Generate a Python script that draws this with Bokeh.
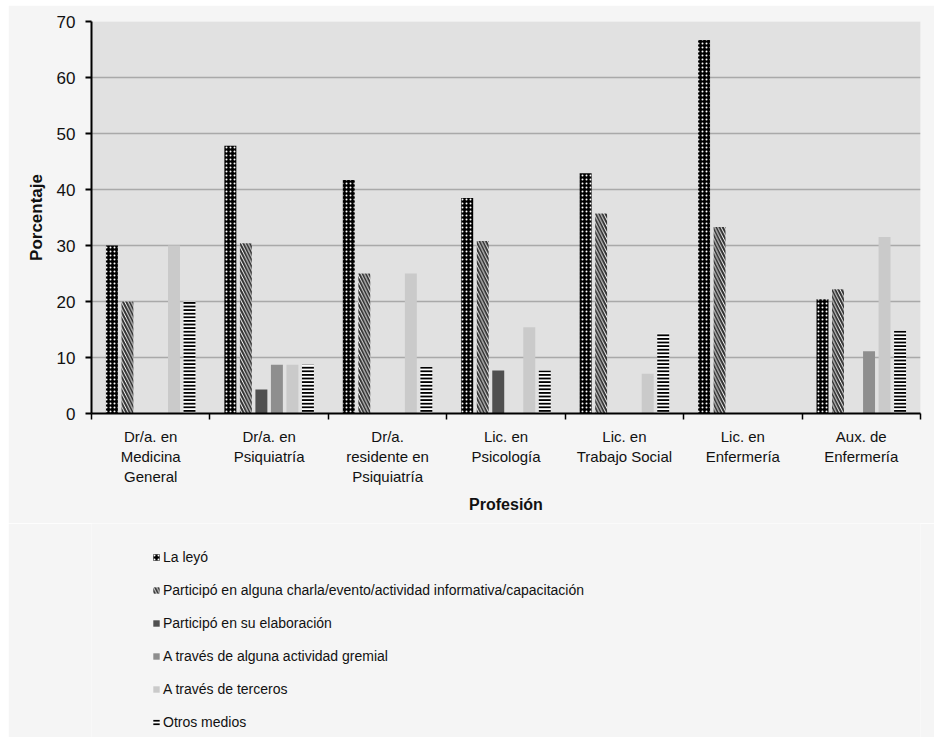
from bokeh.plotting import figure
from bokeh.layouts import column
from bokeh.models import FixedTicker, Legend, LegendItem, Range1d
from bokeh.embed import file_html
from bokeh.resources import INLINE

categories = ["Dr/a. en\nMedicina\nGeneral", "Dr/a. en\nPsiquiatría",
              "Dr/a.\nresidente en\nPsiquiatría", "Lic. en\nPsicología",
              "Lic. en\nTrabajo Social", "Lic. en\nEnfermería", "Aux. de\nEnfermería"]

series_names = ["La leyó",
                "Participó en alguna charla/evento/actividad informativa/capacitación",
                "Participó en su elaboración",
                "A través de alguna actividad gremial",
                "A través de terceros",
                "Otros medios"]

la_leyo = [30.0, 47.8, 41.7, 38.5, 42.9, 66.7, 20.4]
charla = [20.0, 30.4, 25.0, 30.8, 35.7, 33.3, 22.2]
elaboracion = [0.0, 4.3, 0.0, 7.7, 0.0, 0.0, 0.0]
gremial = [0.0, 8.7, 0.0, 0.0, 0.0, 0.0, 11.1]
terceros = [30.0, 8.7, 25.0, 15.4, 7.1, 0.0, 31.5]
otros = [20.0, 8.7, 8.3, 7.7, 14.3, 0.0, 14.8]

y_ticks = [0, 10, 20, 30, 40, 50, 60, 70]

series = [la_leyo, charla, elaboracion, gremial, terceros, otros]

styles = [
    dict(fill_color="black", hatch_pattern="dot", hatch_color="white", hatch_weight=2.2, hatch_scale=4),
    dict(fill_color="white", hatch_pattern="left_diagonal_line", hatch_color="#2e2e2e", hatch_weight=2.0, hatch_scale=6.5),
    dict(fill_color="#505050"),
    dict(fill_color="#8e8e8e"),
    dict(fill_color="#cacaca"),
    dict(fill_color="white", hatch_pattern="horizontal_line", hatch_color="black", hatch_weight=2, hatch_scale=3.6),
]

FONT = "Liberation Sans"
PANEL = "#f5f5f5"

p = figure(width=926, height=518, x_range=Range1d(0, 7), y_range=Range1d(0, 70),
           output_backend="svg", toolbar_location=None,
           min_border_left=83, min_border_right=14, min_border_top=16, min_border_bottom=110)
p.background_fill_color = "#e1e1e1"
p.border_fill_color = PANEL
p.outline_line_color = None

step = 0.131
bw = 0.101
n = len(series)
for k, (vals, st) in enumerate(zip(series, styles)):
    off = (k - (n - 1) / 2) * step
    xs = [i + 0.5 + off for i in range(len(categories))]
    p.vbar(x=xs, top=vals, bottom=0, width=bw, line_color=None, **st)

# axes
p.xgrid.visible = False
p.ygrid.grid_line_color = "#a9a9a9"
p.ygrid.grid_line_width = 1.4
p.ygrid.ticker = FixedTicker(ticks=y_ticks)

p.yaxis.ticker = FixedTicker(ticks=y_ticks)
p.yaxis.axis_line_color = "black"
p.yaxis.axis_line_width = 2
p.yaxis.major_tick_line_color = "black"
p.yaxis.major_tick_line_width = 2
p.yaxis.major_tick_out = 6
p.yaxis.major_tick_in = 0
p.yaxis.minor_tick_line_color = None
p.yaxis.major_label_text_font = FONT
p.yaxis.major_label_text_font_size = "17px"
p.yaxis.major_label_text_color = "#111111"
p.yaxis.major_label_standoff = 10
p.yaxis.axis_label = "Porcentaje"
p.yaxis.axis_label_text_font = FONT
p.yaxis.axis_label_text_font_style = "bold"
p.yaxis.axis_label_text_font_size = "17px"
p.yaxis.axis_label_text_color = "#111111"
p.yaxis.axis_label_standoff = 8

centers = [i + 0.5 for i in range(len(categories))]
bounds = list(range(len(categories) + 1))
p.xaxis.ticker = FixedTicker(ticks=centers, minor_ticks=bounds)
p.xaxis.major_label_overrides = {c: lab for c, lab in zip(centers, categories)}
p.xaxis.axis_line_color = "black"
p.xaxis.axis_line_width = 2
p.xaxis.major_tick_line_color = None
p.xaxis.major_tick_out = 0
p.xaxis.major_tick_in = 0
p.xaxis.minor_tick_line_color = "black"
p.xaxis.minor_tick_line_width = 1.5
p.xaxis.minor_tick_out = 6
p.xaxis.minor_tick_in = 0
p.xaxis.major_label_text_font = FONT
p.xaxis.major_label_text_font_size = "15px"
p.xaxis.major_label_text_color = "#111111"
p.xaxis.major_label_standoff = 8
p.xaxis.axis_label = "Profesión"
p.xaxis.axis_label_text_font = FONT
p.xaxis.axis_label_text_font_style = "bold"
p.xaxis.axis_label_text_font_size = "16px"
p.xaxis.axis_label_text_color = "#111111"
p.xaxis.axis_label_standoff = 8

# legend panel
lf = figure(width=926, height=214, x_range=Range1d(0, 1), y_range=Range1d(0, 1),
            output_backend="svg", toolbar_location=None,
            min_border_left=0, min_border_right=0, min_border_top=0, min_border_bottom=0)
lf.axis.visible = False
lf.grid.visible = False
lf.outline_line_color = None
lf.background_fill_color = PANEL
lf.border_fill_color = PANEL

items = []
for st, name in zip(styles, series_names):
    r = lf.vbar(x=[0.5], top=[0.0], bottom=0, width=0.0, line_color=None, **st)
    items.append(LegendItem(label=name, renderers=[r]))

legend = Legend(items=items, orientation="vertical", location=(61, 5),
                label_text_font=FONT, label_text_font_size="14px", label_text_color="#111111",
                glyph_width=8, glyph_height=8, label_standoff=3, spacing=13, label_height=20,
                background_fill_alpha=0, border_line_color=None, margin=0, padding=0)
lf.add_layout(legend, "center")

layout = column(p, lf, spacing=0)
layout.margin = (5, 0, 0, 8)

html = file_html(layout, INLINE)
html = html.replace("<body>", '<body style="margin:0;background:#e3e3e3;">', 1)
open("out.html", "w").write(html)
